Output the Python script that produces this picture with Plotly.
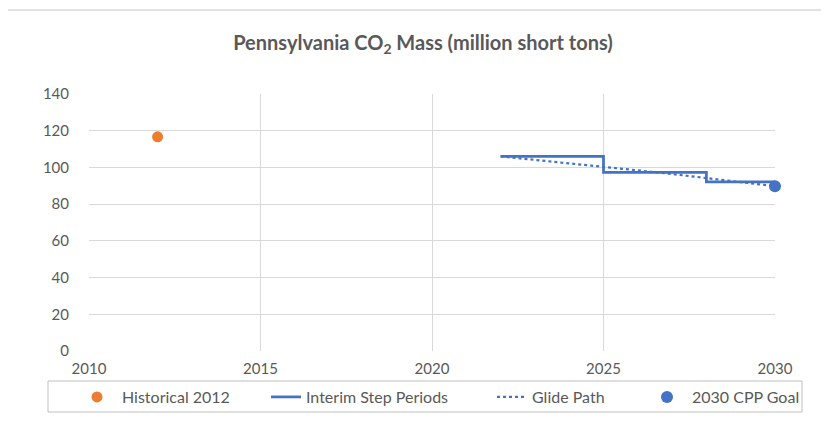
import plotly.graph_objects as go

hist_year = [2012]
hist_val = [116.7]

step_years = [2022, 2025, 2028, 2030]
step_vals = [106.0, 97.3, 92.2, 92.2]

glide_years = [2022, 2023, 2024, 2025, 2026, 2027, 2028, 2029, 2030]
glide_vals = [106.0, 104.2, 102.3, 100.4, 98.4, 96.4, 94.3, 92.1, 89.8]

goal_year = [2030]
goal_val = [89.8]

FONT = "Lato"
GRAY = "#595959"

OFF = 8  # default body margin of the page
W, H = 829 - OFF, 421 - OFF
PL, PR, PT, PB = 89, 775, 94, 351  # plot area in page pixels
L = PL - OFF
T = PT - OFF
R = W - (PR - OFF)
B = H - (PB - OFF)
pw = PR - PL
ph = PB - PT

def px(xp):
    return (xp - PL) / pw

def py(yp):
    return (PB - yp) / ph

fig = go.Figure()
fig.add_trace(go.Scatter(x=hist_year, y=hist_val, mode="markers", name="Historical 2012",
                         marker=dict(color="#ED7D31", size=11), legend="legend"))
fig.add_trace(go.Scatter(x=step_years, y=step_vals, mode="lines", name="Interim Step Periods",
                         line=dict(color="#4472C4", width=2.75, shape="hv"), legend="legend2"))
fig.add_trace(go.Scatter(x=glide_years, y=glide_vals, mode="lines", name="Glide Path",
                         line=dict(color="#4472C4", width=2.2, dash="dot"), legend="legend3"))
fig.add_trace(go.Scatter(x=goal_year, y=goal_val, mode="markers", name="2030 CPP Goal",
                         marker=dict(color="#4472C4", size=12), cliponaxis=False,
                         legend="legend4"))

LEG_Y = py(397)

def leg(xpix, iw):
    return dict(orientation="h", x=px(xpix), xanchor="left", y=LEG_Y, yanchor="middle",
                borderwidth=0, bgcolor="rgba(0,0,0,0)", itemwidth=iw,
                font=dict(family=FONT, size=16, color=GRAY))

fig.update_layout(
    width=W, height=H,
    margin=dict(l=L, r=R, t=T, b=B, autoexpand=False),
    paper_bgcolor="white", plot_bgcolor="white",
    font=dict(family=FONT, size=15, color=GRAY),
    title=dict(text="Pennsylvania CO<sub>2</sub> Mass (million short tons)",
               x=(423 - OFF) / W, xanchor="center", xref="container",
               y=1 - (43 - OFF) / H, yanchor="middle", yref="container",
               font=dict(family=FONT, size=20, color=GRAY, weight="bold")),
    xaxis=dict(range=[2010, 2030], tickvals=[2010, 2015, 2020, 2025, 2030],
               showgrid=True, gridcolor="#d9d9d9", gridwidth=1, zeroline=False,
               showline=False, ticks="outside", ticklen=4, tickcolor="rgba(0,0,0,0)",
               tickfont=dict(size=15, color=GRAY)),
    yaxis=dict(range=[0, 140], tickvals=[0, 20, 40, 60, 80, 100, 120, 140],
               showgrid=True, gridcolor="#d9d9d9", gridwidth=1, zeroline=False,
               showline=False, ticks="outside", ticklen=16, tickcolor="rgba(0,0,0,0)",
               tickfont=dict(size=15, color=GRAY)),
    showlegend=True,
    legend=leg(72, 40),
    legend2=leg(266, 30),
    legend3=leg(492, 30),
    legend4=leg(642, 40),
    shapes=[dict(type="rect", xref="paper", yref="paper",
                 x0=px(7), x1=px(845), y0=py(445), y1=py(10),
                 line=dict(color="#d9d9d9", width=1.5), layer="below"),
            dict(type="rect", xref="paper", yref="paper",
                 x0=px(48), x1=px(802), y0=py(412), y1=py(381),
                 line=dict(color="#bfbfbf", width=1), layer="below")],
)

fig.write_html("out.html")
